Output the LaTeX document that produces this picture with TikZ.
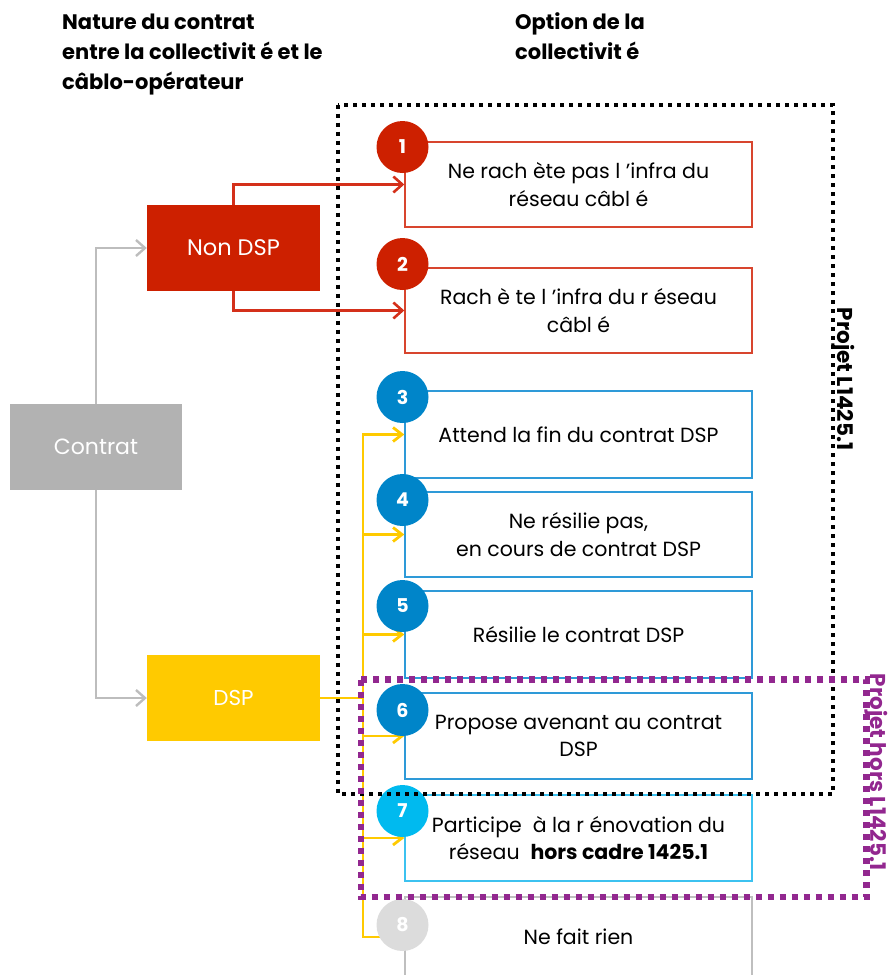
\documentclass[tikz,border=0pt]{standalone}
\usepackage{fontspec}
\setmainfont{Poppins}
\usetikzlibrary{arrows.meta}

\definecolor{redfill}{HTML}{CD2000}
\definecolor{redline}{HTML}{D4301A}
\definecolor{rededge}{HTML}{D8452E}
\definecolor{bluefill}{HTML}{0085C9}
\definecolor{blueedge}{HTML}{2E9AD8}
\definecolor{cyanfill}{HTML}{00BAEF}
\definecolor{cyanedge}{HTML}{3CC2F0}
\definecolor{lightfill}{HTML}{DCDCDC}
\definecolor{grayedge}{HTML}{BFBFBF}
\definecolor{grayfill}{HTML}{B2B2B2}
\definecolor{grayline}{HTML}{BDBDBD}
\definecolor{yellowfill}{HTML}{FFCA00}
\definecolor{frameviolet}{HTML}{92278F}

\tikzset{
  optbox/.style={draw=#1, line width=1.4pt, minimum width=347pt, inner sep=0pt,
    align=center, text=black, font=\fontsize{20.5}{27.5}\selectfont},
  num/.style={circle, fill=#1, minimum size=52pt, inner sep=0pt, text=white,
    font=\bfseries\fontsize{19}{19}\selectfont},
  catbox/.style={fill=#1, minimum width=173pt, minimum height=86pt, inner sep=0pt, text=white},
  head/.style={anchor=base west, inner sep=0pt, font=\bfseries\fontsize{21}{21}\selectfont},
  redlink/.style={draw=redline, line width=2.6pt, -{Straight Barb[length=9pt,width=16pt]}},
  graylink/.style={draw=grayline, line width=2.4pt, -{Straight Barb[length=9pt,width=16pt]}},
  yellink/.style={draw=yellowfill, line width=2.8pt, -{Straight Barb[length=9pt,width=14pt]}},
  yeltrunk/.style={draw=yellowfill, line width=2.8pt, line cap=rect},
  sidelabel/.style={rotate=-90, inner sep=0pt, font=\bfseries\fontsize{21.5}{21.5}\selectfont}
}

\begin{document}
\begin{tikzpicture}[x=1pt,y=-1pt]
\useasboundingbox (0,0) rectangle (887,975);
\clip (0,0) rectangle (887,975);

% column headings
\node[head] (h1a) at (62,29) {Nature du contrat};
\node[head] (h1b) at (62,59) {entre la collectivit é et le};
\node[head] (h1c) at (62,89) {câblo-opérateur};
\node[head] (h2a) at (515,29) {Option de la};
\node[head] (h2b) at (515,59) {collectivit é};

% contract categories
\node[catbox=grayfill, minimum width=172pt, font=\fontsize{22}{22}\selectfont] (contrat) at (96,447) {Contrat};
\node[catbox=redfill, font=\fontsize{22.5}{22.5}\selectfont] (nondsp) at (233.5,248) {Non DSP};
\node[catbox=yellowfill, font=\fontsize{21.5}{21.5}\selectfont] (dsp) at (233.5,698) {DSP};

% options
\node[optbox=rededge, minimum height=85pt] (b1) at (578.5,184.5) {Ne rach ète pas l ’infra du\\réseau câbl é};
\node[optbox=rededge, minimum height=85pt] (b2) at (578.5,310.5) {Rach è te l ’infra du r éseau\\câbl é};
\node[optbox=blueedge, minimum height=87pt] (b3) at (578.5,434.5) {Attend la fin du contrat DSP};
\node[optbox=blueedge, minimum height=85pt] (b4) at (578.5,534.5) {Ne résilie pas,\\en cours de contrat DSP};
\node[optbox=blueedge, minimum height=87pt] (b5) at (578.5,634.5) {Résilie le contrat DSP};
\node[optbox=blueedge, minimum height=86pt] (b6) at (578.5,736) {Propose avenant au contrat\\DSP};
\node[optbox=cyanedge, minimum height=86pt] (b7) at (578.5,838) {Participe \ à la r énovation du\\réseau \ \textbf{hors cadre 1425.1}};
\node[optbox=grayedge, minimum height=80pt] (b8) at (578.5,937) {Ne fait rien};

% links from the contract to its two categories
\draw[graylink] (contrat.north) |- (nondsp.west);
\draw[graylink] (contrat.south) |- (dsp.west);

% Non DSP branches
\draw[redlink] (nondsp.north) |- (b1.west);
\draw[redlink] (nondsp.south) |- (b2.west);

% DSP branches
\coordinate (trunk) at (363,0);
\draw[yeltrunk] (dsp.east) -- (dsp.east -| trunk);
\draw[yeltrunk] (b3.west -| trunk) -- (b8.west -| trunk);
\foreach \b in {b3,b4,b5,b6,b7,b8}
  \draw[yellink] (\b.west -| trunk) -- (\b.west);

% numbered badges
\node[num=redfill] (n1) at (402.5,147) {1};
\node[num=redfill] (n2) at (402.5,264) {2};
\node[num=bluefill] (n3) at (402.5,397) {3};
\node[num=bluefill] (n4) at (402.5,500) {4};
\node[num=bluefill] (n5) at (402.5,606) {5};
\node[num=bluefill] (n6) at (402.5,710) {6};
\node[num=cyanfill] (n7) at (402.5,811) {7};
\node[num=lightfill] (n8) at (402.5,925) {8};

% project scopes
\draw[black, line width=4pt, dash pattern=on 4pt off 5pt] (338,104.5) rectangle (833,793.5);
\node[sidelabel, text=black] (scope1) at (843,379) {Projet L1425.1};
\draw[frameviolet, line width=6.5pt, dash pattern=on 6.5pt off 5.5pt] (361,679.5) rectangle (866.5,897);
\node[sidelabel, text=frameviolet] (scope2) at (876,772) {Projet hors L1425.1};
\end{tikzpicture}
\end{document}
